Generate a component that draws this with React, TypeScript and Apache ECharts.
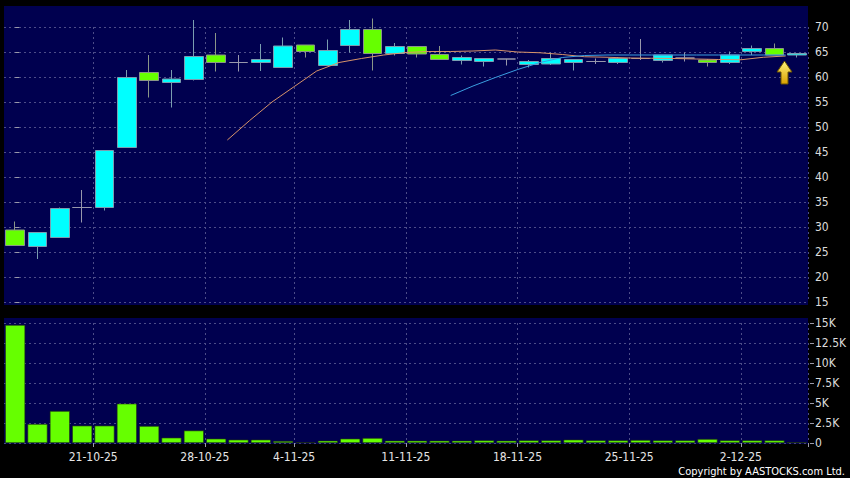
import React, { useEffect, useRef } from 'react';
import * as echarts from 'echarts';

const dates = ['16-10-25','17-10-25','20-10-25','21-10-25','22-10-25','23-10-25','24-10-25','27-10-25','28-10-25','30-10-25','31-10-25','3-11-25','4-11-25','5-11-25','6-11-25','7-11-25','10-11-25','11-11-25','12-11-25','13-11-25','14-11-25','17-11-25','18-11-25','19-11-25','20-11-25','21-11-25','24-11-25','25-11-25','26-11-25','27-11-25','28-11-25','1-12-25','2-12-25','3-12-25','4-12-25','5-12-25'];

const opens  = [29.4, 26.1, 27.9, 33.9, 33.9, 45.9, 60.9, 58.9, 59.5, 64.4, 62.9, 62.9, 61.9, 66.4, 62.3, 66.3, 69.5, 64.7, 66.1, 64.5, 63.3, 63.1, 63.6, 62.5, 62.6, 62.9, 63.1, 62.9, 63.7, 63.3, 63.8, 63.4, 62.9, 65.1, 65.7, 64.4];
const closes = [26.3, 28.9, 33.7, 33.9, 45.3, 59.9, 59.3, 59.6, 64.1, 62.9, 62.9, 63.5, 66.2, 65.1, 65.3, 69.5, 64.7, 66.1, 64.6, 63.5, 63.9, 63.7, 63.6, 63.1, 63.7, 63.5, 63.1, 63.7, 63.7, 64.4, 63.8, 62.9, 64.4, 65.7, 64.4, 64.7];
const lows   = [26.3, 23.6, 27.9, 30.9, 33.3, 45.9, 55.9, 53.9, 59.3, 61.1, 61.1, 61.2, 61.9, 63.9, 62.3, 64.9, 61.3, 64.3, 63.9, 63.5, 62.5, 62.1, 62.3, 61.9, 62.4, 61.3, 62.6, 62.6, 63.4, 62.9, 63.1, 62.1, 62.6, 64.4, 64.4, 63.9];
const highs  = [31.1, 28.9, 33.9, 37.4, 45.3, 61.4, 64.4, 61.4, 71.4, 68.8, 64.4, 66.6, 67.9, 66.4, 67.5, 71.4, 71.7, 66.8, 66.1, 66.2, 64.3, 63.7, 63.6, 63.4, 64.9, 63.5, 63.7, 64.0, 67.6, 64.4, 64.9, 63.6, 65.1, 66.3, 66.7, 64.8];

const volumes = [14750, 2375, 4000, 2170, 2170, 4917, 2125, 667, 1560, 542, 417, 417, 250, 90, 290, 542, 625, 290, 290, 290, 290, 330, 290, 330, 330, 417, 330, 330, 375, 330, 330, 500, 330, 330, 330, 100];

const ma10 = [null, null, null, null, null, null, null, null, null, 47.4, 51.3, 55.0, 58.1, 61.2, 62.9, 63.7, 64.4, 64.9, 65.1, 65.1, 65.2, 65.4, 65.0, 64.85, 64.5, 64.05, 63.95, 63.8, 63.75, 63.7, 63.6, 63.5, 63.45, 63.95, 64.2, null];
const ma20 = [null, null, null, null, null, null, null, null, null, null, null, null, null, null, null, null, null, null, null, 56.3, 58.2, 59.9, 61.5, 62.9, 63.9, 64.3, 64.4, 64.4, 64.4, 64.4, 64.4, 64.4, 64.4, 64.4, 64.4, null];

const labelDates = ['21-10-25','28-10-25','4-11-25','11-11-25','18-11-25','25-11-25','2-12-25'];

const priceTicks = { min: 15, max: 70, interval: 5 };
const volTicks = { min: 0, max: 15000, interval: 2500 };

const FONT = 'DejaVu Sans Condensed, DejaVu Sans, sans-serif';

export default function App() {
  const ref = useRef<HTMLDivElement>(null);
  useEffect(() => {
    document.body.style.margin = '0';
    document.body.style.background = '#000';
    const chart = echarts.init(ref.current!, null, { renderer: 'svg' });

    const labelIdx = new Set(labelDates.map((d) => dates.indexOf(d)));
    // ticks / split lines sit at the right boundary of a labelled day = left boundary of next
    const tickIdx = new Set(Array.from(labelIdx).map((i) => i + 1));

    const candleData = dates.map((_, i) => [opens[i], closes[i], lows[i], highs[i]]);
    const toLine = (arr: (number | null)[]) =>
      arr.map((v, i) => (v == null ? null : [i + 0.5, v])).filter((p) => p !== null);

    const gridLine = { color: '#4c4c88', width: 1, type: [2, 3] as any };

    const option: any = {
      animation: false,
      backgroundColor: '#000',
      graphic: [
        { type: 'rect', z: -10, silent: true, shape: { x: 4, y: 6, width: 804, height: 299 }, style: { fill: '#00004f' } },
        { type: 'rect', z: -10, silent: true, shape: { x: 4, y: 318, width: 804, height: 126 }, style: { fill: '#00004f' } },
        {
          type: 'polygon', z: 50,
          shape: { points: [[784.5, 61], [792, 72], [788, 72], [788, 84], [781, 84], [781, 72], [777, 72]] },
          style: {
            fill: new echarts.graphic.LinearGradient(0, 0, 0, 1, [
              { offset: 0, color: '#fff27a' },
              { offset: 1, color: '#d9a000' },
            ]),
            stroke: '#6a5200', lineWidth: 1,
          },
        },
        {
          type: 'text', z: 50, x: 845, y: 471,
          style: { text: 'Copyright by AASTOCKS.com Ltd.', fill: '#ffffff', font: `11px ${FONT}`, textAlign: 'right', textVerticalAlign: 'middle' },
        },
      ],
      grid: [
        { left: 4, right: 42, top: 27, height: 275 },
        { left: 4, right: 42, top: 323, height: 120 },
      ],
      xAxis: [
        {
          type: 'category', gridIndex: 0, data: dates, boundaryGap: true,
          axisLine: { show: false }, axisTick: { show: false }, axisLabel: { show: false },
          splitLine: { show: true, interval: (i: number) => tickIdx.has(i), lineStyle: gridLine },
        },
        {
          type: 'category', gridIndex: 1, data: dates, boundaryGap: true, offset: 2,
          axisLine: { show: false },
          axisTick: { show: true, length: 4, interval: (i: number) => tickIdx.has(i), lineStyle: { color: '#9a9aaa' } },
          axisLabel: {
            show: true, interval: (i: number) => labelIdx.has(i), margin: 6,
            color: '#e6e6e6', fontSize: 12, fontFamily: FONT, padding: [0, 0, 0, 22],
          },
          splitLine: { show: true, interval: (i: number) => tickIdx.has(i), lineStyle: gridLine },
        },
        { type: 'value', gridIndex: 0, min: -0.5, max: dates.length - 0.5, show: false },
      ],
      yAxis: [
        {
          type: 'value', gridIndex: 0, position: 'right', offset: 2,
          min: priceTicks.min, max: priceTicks.max, interval: priceTicks.interval,
          axisLine: { show: false },
          axisTick: { show: true, length: 4, lineStyle: { color: '#9a9aaa' } },
          axisLabel: { color: '#dcdcdc', fontSize: 12, fontFamily: FONT, margin: 5 },
          splitLine: { show: true, lineStyle: gridLine },
        },
        {
          type: 'value', gridIndex: 1, position: 'right', offset: 2,
          min: volTicks.min, max: volTicks.max, interval: volTicks.interval,
          axisLine: { show: false },
          axisTick: { show: true, length: 4, lineStyle: { color: '#9a9aaa' } },
          axisLabel: {
            color: '#dcdcdc', fontSize: 12, fontFamily: FONT, margin: 5,
            formatter: (v: number) => (v === 0 ? '0' : `${v / 1000}K`),
          },
          splitLine: { show: true, lineStyle: gridLine },
        },
      ],
      series: [
        {
          type: 'candlestick', xAxisIndex: 0, yAxisIndex: 0, data: candleData, barWidth: 19, clip: false,
          itemStyle: {
            color: '#00ffff', color0: '#66ff00',
            borderColor: '#7a9db0', borderColor0: '#8a9688', borderColorDoji: '#9898ac', borderWidth: 1,
          },
        },
        {
          type: 'line', xAxisIndex: 2, yAxisIndex: 0, data: toLine(ma10), showSymbol: false, clip: false,
          lineStyle: { color: '#d8946a', width: 1 }, z: 3,
        },
        {
          type: 'line', xAxisIndex: 2, yAxisIndex: 0, data: toLine(ma20), showSymbol: false, clip: false,
          lineStyle: { color: '#3a9ee0', width: 1 }, z: 3,
        },
        {
          type: 'bar', xAxisIndex: 1, yAxisIndex: 1, data: volumes, barWidth: 20,
          itemStyle: { color: '#66ff00', borderColor: '#1c2a14', borderWidth: 0.6 },
        },
      ],
    };
    chart.setOption(option);
    return () => chart.dispose();
  }, []);
  return <div ref={ref} style={{ width: 850, height: 478 }} />;
}
